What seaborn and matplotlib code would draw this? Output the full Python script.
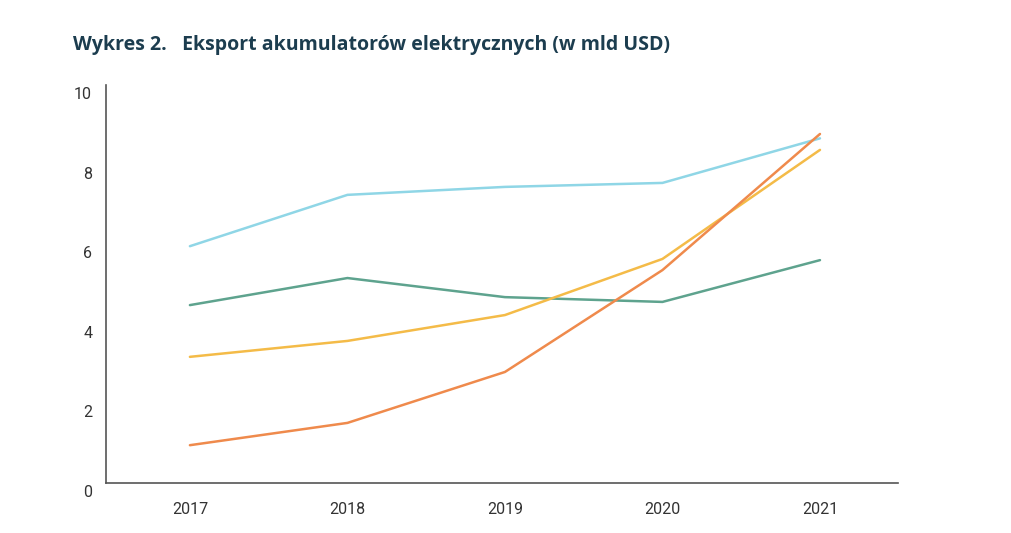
import pandas as pd
import matplotlib.pyplot as plt
import matplotlib.transforms as mtransforms
import seaborn as sns

# Dane (mld USD)
lata = [2017, 2018, 2019, 2020, 2021]
seria_niebieska = [5.95, 7.24, 7.44, 7.54, 8.66]
seria_zielona = [4.47, 5.15, 4.67, 4.55, 5.60]
seria_zolta = [3.17, 3.57, 4.22, 5.63, 8.37]
seria_pomaranczowa = [0.95, 1.51, 2.79, 5.35, 8.77]

nazwy = ["A", "B", "C", "D"]
kolory = ["#8fd6e6", "#5ea38e", "#f4bb48", "#ef8a4c"]

df = pd.DataFrame({
    "rok": lata * 4,
    "wartosc": seria_niebieska + seria_zielona + seria_zolta + seria_pomaranczowa,
    "seria": [n for n in nazwy for _ in lata],
})

sns.set_style("white")
plt.rcParams["font.family"] = ["Roboto", "DejaVu Sans"]

fig = plt.figure(figsize=(10.12, 5.33), dpi=100)
ax = fig.add_axes([0.1047, 0.0938, 0.7826, 0.7467])

sns.lineplot(data=df, x="rok", y="wartosc", hue="seria", hue_order=nazwy,
             palette=kolory, linewidth=1.8, legend=False, ax=ax)

ax.set_xlim(2016.467, 2021.495)
ax.set_ylim(0, 10)
ax.set_xticks(lata)
ax.set_yticks(range(0, 11, 2))
ax.set_xlabel("")
ax.set_ylabel("")
ax.tick_params(axis="both", length=0, labelsize=11.5, labelcolor="#333333")
ax.tick_params(axis="y", pad=10)
ax.tick_params(axis="x", pad=14)

# etykiety osi Y lekko przesunięte w dół, jak w oryginale
przesun = mtransforms.ScaledTranslation(0, -8 / 100, fig.dpi_scale_trans)
for lab in ax.get_yticklabels():
    lab.set_transform(lab.get_transform() + przesun)

sns.despine(ax=ax)
for s in ["left", "bottom"]:
    ax.spines[s].set_color("#555555")
    ax.spines[s].set_linewidth(1.2)

fig.text(0.072, 0.915, "Wykres 2.   Eksport akumulatorów elektrycznych (w mld USD)",
         fontsize=14, fontweight="bold", color="#1c3d4f", va="center",
         family=["Open Sans", "DejaVu Sans"])

fig.savefig("out.png", dpi=100)
